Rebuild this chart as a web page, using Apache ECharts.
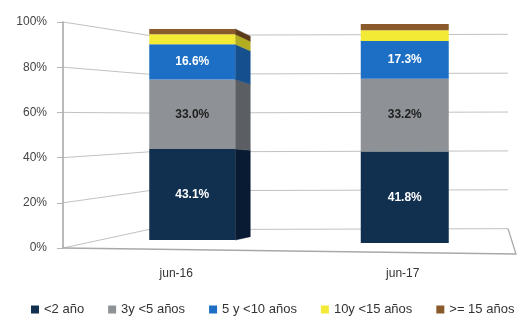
<!DOCTYPE html>
<html>
<head>
<meta charset="utf-8">
<script src="https://cdn.jsdelivr.net/npm/echarts@6/dist/echarts.min.js"></script>
<style>
  html, body { margin: 0; padding: 0; background: #ffffff; }
  #chart { width: 522px; height: 326px; }
</style>
</head>
<body>
<div id="chart"></div>
<script>
// Periods on the x axis
const categories = ['jun-16', 'jun-17'];

// Share of each maturity bucket (%)
const menos2 = [43.1, 41.8];
const de3a5 = [33.0, 33.2];
const de5a10 = [16.6, 17.3];
const de10a15 = [4.8, 4.8];
const mas15 = [2.5, 2.9];

const seriesNames = ['<2 año', '3y <5 años', '5 y <10 años', '10y <15 años', '>= 15 años'];
const yTicks = [0, 20, 40, 60, 80, 100];

const FONT = 'Liberation Sans, Arial, sans-serif';
const colors = ['#11304f', '#8e9196', '#1c6fc4', '#f2ea35', '#8a5a2c'];
const sideColors = ['#081b33', '#5b5e63', '#164f8e', '#b3ad22', '#5c3b1c'];
const labelColors = ['#ffffff', '#1e1e1e', '#ffffff', null, null];
const values = [menos2, de3a5, de5a10, de10a15, mas15];

// Column geometry (pixels). Columns stand a little behind the front edge
// of the floor, so their vertical scale is squeezed towards a vanishing row.
const BAR_W = [86, 88];
const NUDGE = [16, 2];
const FRONT_S = [0.934, 0.969];
const FRONT_C = [127, 87];
const DEPTH = [15, 0];
const SIDE_S = 0.95;
const SIDE_C = 134;

// Cumulative bases for the stacked segments
const bases = values.map((_, i) =>
  categories.map((_, c) => values.slice(0, i).reduce((s, arr) => s + arr[c], 0))
);

const chart = echarts.init(document.getElementById('chart'));

function makeRender(si) {
  return function (params, api) {
    const c = api.value(0);
    const base = api.value(1);
    const v = api.value(2);
    const front = y => FRONT_C[c] + (y - FRONT_C[c]) * FRONT_S[c];
    const xc = api.coord([c, 0])[0] + NUDGE[c];
    const yB = front(api.coord([c, base])[1]);
    const yT = front(api.coord([c, base + v])[1]);
    const w = BAR_W[c];
    const xL = xc - w / 2;
    const xR = xc + w / 2;
    const children = [];
    const d = DEPTH[c];
    if (d > 0) {
      const back = y => SIDE_C + (y - SIDE_C) * SIDE_S;
      children.push({
        type: 'polygon',
        shape: { points: [[xR, yT], [xR + d, back(yT) + 2], [xR + d, back(yB) + 2], [xR, yB]] },
        style: { fill: sideColors[si], stroke: sideColors[si], lineWidth: 0.5 }
      });
    }
    children.push({
      type: 'rect',
      shape: { x: xL, y: yT, width: w, height: yB - yT },
      style: { fill: api.visual('color') }
    });
    if (labelColors[si]) {
      children.push({
        type: 'text',
        style: {
          text: v.toFixed(1) + '%',
          x: xc, y: (yT + yB) / 2,
          align: 'center', verticalAlign: 'middle',
          fill: labelColors[si],
          font: 'bold 12px ' + FONT
        }
      });
    }
    return { type: 'group', children };
  };
}

const series = values.map((vals, i) => ({
  name: seriesNames[i],
  type: 'custom',
  renderItem: makeRender(i),
  itemStyle: { color: colors[i] },
  encode: { x: 0, y: 2 },
  data: vals.map((v, c) => [c, bases[i][c], v]),
  z: 3
}));

chart.setOption({
  animation: false,
  backgroundColor: '#ffffff',
  grid: { left: 63, right: 6, top: 22, bottom: 78, containLabel: false },
  legend: {
    bottom: 5,
    left: 26,
    itemWidth: 8,
    itemHeight: 8,
    itemGap: 24,
    icon: 'rect',
    textStyle: { color: '#333333', fontSize: 13, fontFamily: FONT },
    data: seriesNames
  },
  xAxis: {
    type: 'category',
    data: categories,
    axisLine: { show: false },
    axisTick: { show: false },
    axisLabel: { color: '#333333', fontSize: 12, margin: 20, fontFamily: FONT }
  },
  yAxis: {
    type: 'value',
    min: yTicks[0],
    max: yTicks[yTicks.length - 1],
    interval: yTicks[1] - yTicks[0],
    axisLine: { show: true, lineStyle: { color: '#a3a3a3', width: 1.5 } },
    axisTick: { show: true, length: 6, lineStyle: { color: '#b5b5b5' } },
    splitLine: { show: false },
    axisLabel: {
      color: '#444444', fontSize: 12, margin: 16,
      fontFamily: FONT,
      formatter: v => v + '%'
    }
  },
  series: series
});

// Back wall and floor drawn in perspective behind the columns
const WALL_C = 117, WALL_S = 0.86;
const xAxisLeft = 63, xWallStart = 148, xWallEnd = 508, xFloorEnd = 516;
const lines = [];
yTicks.forEach(v => {
  const ya = chart.convertToPixel({ yAxisIndex: 0 }, v);
  const yb = WALL_C + (ya - WALL_C) * WALL_S;
  lines.push({
    type: 'polyline',
    shape: { points: [[xAxisLeft, ya], [xWallStart, yb], [xWallEnd, yb - 1]] },
    style: { stroke: '#c2c2c2', lineWidth: 1, fill: null },
    silent: true
  });
});
const y0 = chart.convertToPixel({ yAxisIndex: 0 }, 0);
const y0b = WALL_C + (y0 - WALL_C) * WALL_S;
lines.push({
  type: 'polyline',
  shape: { points: [[xAxisLeft, y0], [xFloorEnd, y0 + 6], [xWallEnd, y0b - 1]] },
  style: { stroke: '#a8a8a8', lineWidth: 1.3, fill: null },
  silent: true
});
chart.setOption({ graphic: { elements: lines.map(l => Object.assign({ z: 0 }, l)) } });
</script>
</body>
</html>
